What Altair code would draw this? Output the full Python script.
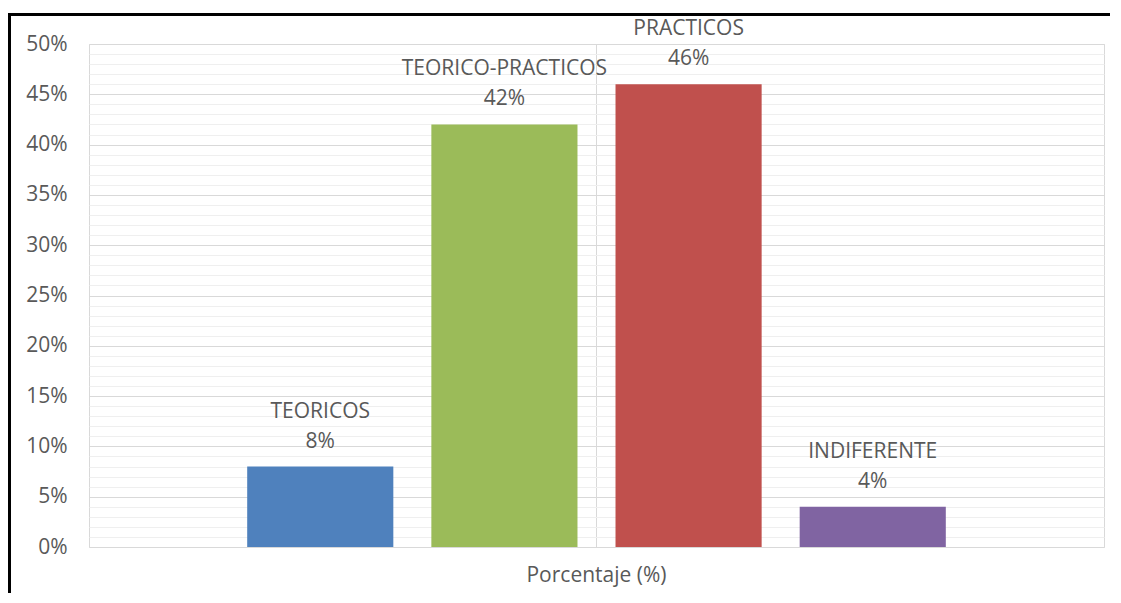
import altair as alt
import pandas as pd

category = "Porcentaje (%)"
series = ["TEORICOS", "TEORICO-PRACTICOS", "PRACTICOS", "INDIFERENTE"]
values = [0.08, 0.42, 0.46, 0.04]
pct_labels = ["8%", "42%", "46%", "4%"]
colors = ["#4F81BD", "#9BBB59", "#C0504D", "#8064A2"]
y_ticks = [0.00, 0.01, 0.02, 0.03, 0.04, 0.05, 0.06, 0.07, 0.08, 0.09,
           0.10, 0.11, 0.12, 0.13, 0.14, 0.15, 0.16, 0.17, 0.18, 0.19,
           0.20, 0.21, 0.22, 0.23, 0.24, 0.25, 0.26, 0.27, 0.28, 0.29,
           0.30, 0.31, 0.32, 0.33, 0.34, 0.35, 0.36, 0.37, 0.38, 0.39,
           0.40, 0.41, 0.42, 0.43, 0.44, 0.45, 0.46, 0.47, 0.48, 0.49, 0.50]

df = pd.DataFrame({
    "cat": [category] * len(series),
    "serie": series,
    "valor": values,
    "pct": pct_labels,
})

FONT = "Open Sans"
TXT = "#595959"
FS = 21

x_enc = alt.X(
    "cat:N",
    scale=alt.Scale(paddingInner=0, paddingOuter=0),
    axis=alt.Axis(title=None, ticks=False, domain=False, grid=True,
                  gridColor="#D9D9D9", bandPosition=0.5, labelAngle=0,
                  labelFont=FONT, labelFontSize=FS, labelColor=TXT,
                  labelPadding=17),
)
xo_enc = alt.XOffset("serie:N", sort=series,
                     scale=alt.Scale(paddingInner=0.2065, paddingOuter=0.859))
y_enc = alt.Y(
    "valor:Q",
    scale=alt.Scale(domain=[0, 0.5], nice=False, zero=True),
    axis=alt.Axis(title=None, values=y_ticks, format=".0%", ticks=False,
                  domain=False, grid=True,
                  gridColor={"condition": {"test": "round(datum.value*100) % 5 === 0",
                                           "value": "#D9D9D9"},
                             "value": "#EFEFEF"},
                  labelExpr="round(datum.value*100) % 5 === 0 ? datum.label : ''",
                  labelFont=FONT, labelFontSize=FS, labelColor=TXT,
                  labelPadding=22, labelBaseline="middle"),
)

base = alt.Chart(df)

bars = base.mark_bar().encode(
    x=x_enc, xOffset=xo_enc, y=y_enc,
    color=alt.Color("serie:N", sort=series,
                    scale=alt.Scale(domain=series, range=colors), legend=None),
)

names = base.mark_text(dy=-55, fontSize=FS, font=FONT, color=TXT,
                       baseline="middle").encode(
    x=x_enc, xOffset=xo_enc, y=y_enc, text="serie:N")

pcts = base.mark_text(dy=-25, fontSize=FS, font=FONT, color=TXT,
                      baseline="middle").encode(
    x=x_enc, xOffset=xo_enc, y=y_enc, text="pct:N")

frame_data = alt.Data(values=[{"k": 1}])
frame_top = alt.Chart(frame_data).mark_rule(color="black", strokeWidth=3).encode(
    x=alt.value(-81), x2=alt.value(1040), y=alt.value(-29.5))
frame_left = alt.Chart(frame_data).mark_rule(color="black", strokeWidth=3).encode(
    x=alt.value(-79.5), y=alt.value(-31), y2=alt.value(560))

chart = alt.layer(bars, names, pcts, frame_top, frame_left).properties(
    width=1015, height=503,
    autosize=alt.AutoSizeParams(type="none"),
    padding={"left": 81, "top": 36, "right": 6, "bottom": 46},
).configure_view(stroke="#D9D9D9", strokeWidth=1)

chart.save("out.html", embed_options={"renderer": "svg", "actions": False})
